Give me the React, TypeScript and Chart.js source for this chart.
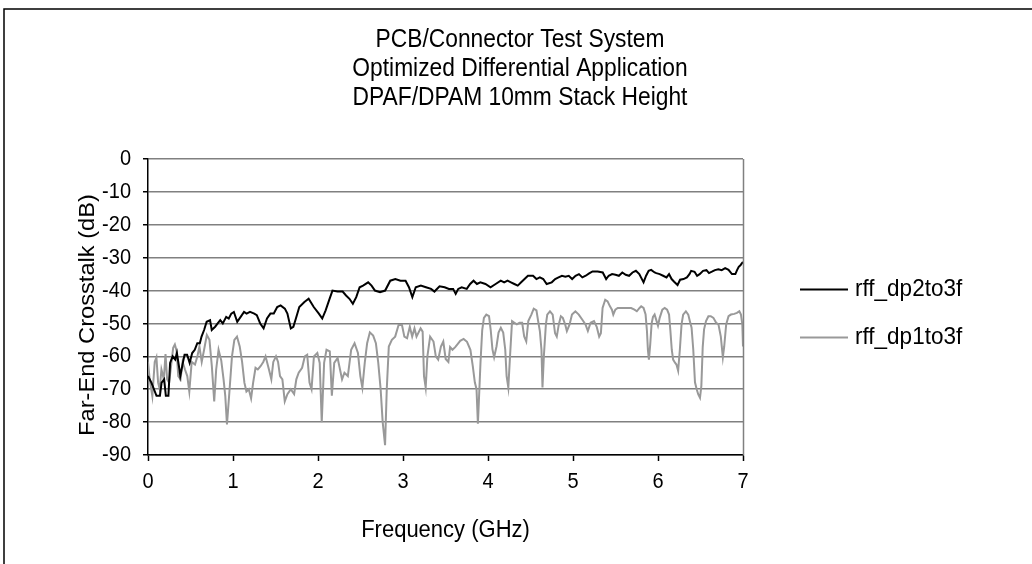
import React, { useEffect, useRef } from "react";
import { Chart, registerables } from "chart.js";

Chart.register(...registerables);

const TITLE_LINES = [
  "PCB/Connector Test System",
  "Optimized Differential Application",
  "DPAF/DPAM 10mm Stack Height",
];
const X_TITLE = "Frequency (GHz)";
const Y_TITLE = "Far-End Crosstalk (dB)";
const SERIES_NAMES = ["rff_dp2to3f", "rff_dp1to3f"];
const SERIES_COLORS = ["#000000", "#999999"];
const X_MIN = 0;
const X_MAX = 7;
const X_STEP = 1;
const Y_MIN = -90;
const Y_MAX = 0;
const Y_STEP = 10;

// rff_dp2to3f (black)
const dp2Freq = [
  0.0, 0.04, 0.1, 0.14, 0.16, 0.19, 0.21, 0.24, 0.26, 0.29,
  0.32, 0.34, 0.37, 0.38, 0.41, 0.43, 0.46, 0.49, 0.52, 0.55,
  0.58, 0.61, 0.63, 0.66, 0.69, 0.73, 0.75, 0.79, 0.82, 0.85,
  0.88, 0.92, 0.95, 0.98, 1.01, 1.05, 1.09, 1.13, 1.16, 1.2,
  1.25, 1.28, 1.32, 1.36, 1.4, 1.44, 1.48, 1.52, 1.56, 1.61,
  1.64, 1.68, 1.71, 1.74, 1.78, 1.84, 1.89, 1.95, 2.01, 2.05,
  2.09, 2.13, 2.17, 2.23, 2.29, 2.33, 2.37, 2.41, 2.45, 2.49,
  2.53, 2.59, 2.63, 2.67, 2.73, 2.79, 2.85, 2.91, 2.97, 3.03,
  3.07, 3.11, 3.15, 3.21, 3.27, 3.33, 3.37, 3.43, 3.49, 3.54,
  3.59, 3.62, 3.65, 3.69, 3.75, 3.79, 3.83, 3.87, 3.91, 3.97,
  4.03, 4.09, 4.15, 4.19, 4.23, 4.27, 4.31, 4.35, 4.39, 4.43,
  4.47, 4.53, 4.57, 4.61, 4.65, 4.69, 4.75, 4.79, 4.83, 4.87,
  4.91, 4.95, 4.99, 5.03, 5.07, 5.11, 5.15, 5.19, 5.23, 5.29,
  5.35, 5.37, 5.39, 5.42, 5.46, 5.5, 5.54, 5.58, 5.62, 5.66,
  5.7, 5.74, 5.78, 5.8, 5.83, 5.86, 5.89, 5.92, 5.96, 5.98,
  6.02, 6.06, 6.1, 6.13, 6.16, 6.19, 6.23, 6.26, 6.3, 6.34,
  6.37, 6.39, 6.43, 6.46, 6.49, 6.53, 6.57, 6.6, 6.64, 6.67,
  6.71, 6.75, 6.79, 6.83, 6.87, 6.91, 6.93, 6.95, 6.97, 7.0,
];
const dp2Values = [
  -66, -68, -72, -72, -68, -67, -72, -72, -62, -60,
  -61, -59, -64, -66, -62, -59.5, -59.5, -62, -59, -58,
  -56, -56, -54, -52, -49.5, -49, -52, -51, -50, -49,
  -50, -48, -48.5, -47, -46.5, -49.5, -48, -46.5, -47, -46.5,
  -47, -47.5, -50, -51.5, -48.5, -47, -47, -45, -44.5, -45.5,
  -47, -51.5, -51, -48.5, -45, -43.5, -42.5, -45, -47, -48.5,
  -46, -43, -40, -40.3, -40.3, -41.5, -42.5, -44, -42, -39,
  -38.5, -37.5, -38.5, -40, -40.5, -40, -37, -36.5, -37, -37,
  -39, -42, -39, -38.5, -39, -39.5, -40.3, -38.7, -39, -39.5,
  -39.5, -41, -39.5, -39, -39.5, -38, -37, -38, -37.5, -38,
  -39, -38, -37, -37.5, -37, -37.5, -38, -38.5, -37.5, -36.5,
  -35.5, -35.5, -36.5, -36, -36.5, -38, -37.5, -36.5, -36, -35.5,
  -35.8, -35.5, -36.5, -35.5, -35, -36, -35.5, -34.8, -34.2, -34.2,
  -34.5, -35.5, -36.5, -35.5, -35, -35.2, -35.5, -34.5, -35.2, -35.5,
  -34.5, -34, -35, -36, -37.5, -35.5, -34, -33.7, -34.5, -34.7,
  -35, -35.5, -36, -35, -36.5, -37.3, -38.3, -36.7, -36.5, -36,
  -35, -34, -34.3, -35.5, -35, -34, -33.8, -34.7, -34.2, -33.8,
  -33.5, -33.8, -33.2, -33.7, -35, -35, -33.8, -32.8, -32.3, -31.3,
];

// rff_dp1to3f (gray)
const dp1Freq = [
  0.0, 0.02, 0.051, 0.079, 0.099, 0.119, 0.138, 0.158, 0.186, 0.206,
  0.225, 0.249, 0.277, 0.296, 0.316, 0.336, 0.356, 0.383, 0.407, 0.435,
  0.462, 0.486, 0.514, 0.553, 0.581, 0.605, 0.632, 0.66, 0.692, 0.723,
  0.751, 0.779, 0.802, 0.83, 0.862, 0.889, 0.909, 0.929, 0.96, 0.988,
  1.016, 1.047, 1.079, 1.107, 1.134, 1.158, 1.186, 1.213, 1.237, 1.265,
  1.292, 1.324, 1.356, 1.383, 1.423, 1.451, 1.474, 1.506, 1.53, 1.553,
  1.581, 1.609, 1.64, 1.68, 1.719, 1.745, 1.773, 1.813, 1.845, 1.873,
  1.9, 1.924, 1.952, 1.992, 2.02, 2.044, 2.072, 2.1, 2.139, 2.163,
  2.191, 2.231, 2.259, 2.283, 2.311, 2.351, 2.39, 2.43, 2.47, 2.498,
  2.522, 2.55, 2.578, 2.61, 2.649, 2.681, 2.709, 2.737, 2.761, 2.789,
  2.809, 2.833, 2.869, 2.908, 2.948, 2.988, 3.016, 3.048, 3.08, 3.108,
  3.135, 3.159, 3.207, 3.231, 3.247, 3.267, 3.287, 3.319, 3.359, 3.386,
  3.414, 3.446, 3.474, 3.502, 3.534, 3.554, 3.582, 3.614, 3.645, 3.673,
  3.713, 3.753, 3.793, 3.821, 3.845, 3.865, 3.881, 3.892, 3.912, 3.932,
  3.952, 3.98, 4.012, 4.032, 4.052, 4.072, 4.1, 4.124, 4.151, 4.179,
  4.203, 4.219, 4.239, 4.259, 4.283, 4.311, 4.339, 4.371, 4.402, 4.426,
  4.45, 4.474, 4.51, 4.538, 4.57, 4.59, 4.61, 4.629, 4.641, 4.657,
  4.681, 4.697, 4.729, 4.761, 4.789, 4.809, 4.833, 4.857, 4.88, 4.908,
  4.928, 4.96, 4.988, 5.028, 5.068, 5.108, 5.147, 5.175, 5.207, 5.247,
  5.279, 5.308, 5.328, 5.348, 5.379, 5.407, 5.435, 5.458, 5.474, 5.498,
  5.526, 5.565, 5.605, 5.644, 5.684, 5.723, 5.751, 5.783, 5.802, 5.83,
  5.854, 5.87, 5.881, 5.893, 5.909, 5.925, 5.941, 5.96, 5.98, 6.0,
  6.02, 6.051, 6.079, 6.107, 6.13, 6.146, 6.162, 6.178, 6.202, 6.217,
  6.237, 6.257, 6.277, 6.296, 6.328, 6.356, 6.375, 6.395, 6.415, 6.435,
  6.455, 6.474, 6.494, 6.51, 6.526, 6.542, 6.565, 6.593, 6.621, 6.652,
  6.684, 6.711, 6.739, 6.763, 6.779, 6.802, 6.83, 6.858, 6.897, 6.929,
  6.957, 6.976, 6.992, 7.0,
];
const dp1Values = [
  -61.7, -67, -72.1, -61.7, -60.3, -68, -70, -64, -67, -59.3,
  -67, -68, -61.7, -57.4, -56.4, -58.3, -66, -67, -61.7, -64,
  -66, -70.7, -61.7, -62.5, -60, -57, -61.7, -58, -53.5, -55,
  -63, -73.7, -64, -58, -61.3, -67, -72, -80.7, -70, -60,
  -55, -54, -57, -61.7, -68, -70.7, -70, -72.8, -68, -63.5,
  -64, -63, -61.7, -60, -64, -67, -61.7, -60, -61.7, -66,
  -67, -73.7, -71.5, -70, -71.5, -67, -65, -63.5, -60, -59.5,
  -68, -70, -60, -59, -62, -80, -62, -58, -58.5, -72,
  -62, -60.5, -64, -67, -65, -66, -58, -56, -59, -66,
  -69.5, -62, -56, -52.7, -53.7, -56, -62, -70, -80, -87,
  -70, -57, -55, -54, -50.5, -50.5, -54, -54.5, -51, -54,
  -51.5, -54, -51.5, -52.5, -66, -69.5, -60, -54, -55.5, -60,
  -61, -57, -55.5, -60.8, -61.7, -57.2, -58, -57.2, -56.2, -55.3,
  -54.7, -55.6, -58, -63, -67.9, -70, -80.5, -74, -61.7, -52,
  -48.3, -47.3, -47.8, -52, -57.8, -60.3, -57, -52.8, -51.3, -52.8,
  -58, -66, -69.5, -60, -49.3, -49.8, -50.3, -49.8, -49.8, -54,
  -55.5, -49.3, -47.3, -45.5, -46, -49.3, -52.3, -58, -69.5, -60,
  -50.3, -47.3, -46.3, -47.3, -53, -54, -50.3, -47.8, -48.3, -50.3,
  -52.3, -50.3, -47.3, -46.3, -47.3, -48.8, -50.3, -52.3, -49.8, -49.3,
  -51, -54, -53, -45.3, -42.8, -43.3, -44.8, -45.8, -47.3, -45.8,
  -45.3, -45.3, -45.3, -45.3, -45.3, -45.8, -46.3, -45.3, -44.8, -45.3,
  -47.3, -52.3, -58, -61, -56.2, -50, -48, -47.3, -49, -50.7,
  -48.3, -45.8, -45.3, -45.8, -47.3, -52.3, -58, -61, -62, -62.5,
  -64.4, -58, -50.3, -47.3, -46.3, -47.3, -49.3, -51.3, -58, -67.9,
  -70, -71.6, -72.6, -69, -57.2, -51.8, -49.3, -47.8, -47.8, -48.3,
  -49.8, -50.3, -54, -60.3, -57, -50.3, -47.8, -47.3, -47.1, -46.8,
  -46.3, -47.3, -50.3, -57,
];

const FONT = '"Liberation Sans", Arial, sans-serif';
const W = 1032;
const H = 564;
const SY = 1.1; // vertical stretch of the reference's lettering

const toPoints = (fs: number[], vs: number[]) =>
  fs.map((f, i) => ({ x: f, y: vs[i] }));

function text(ctx: any, s: string, x: number, y: number, size: number, align: string, rot = 0) {
  ctx.save();
  ctx.translate(x, y);
  ctx.scale(1, SY);
  if (rot) ctx.rotate(rot);
  ctx.font = `${size}px ${FONT}`;
  ctx.textAlign = align;
  ctx.textBaseline = "middle";
  ctx.fillStyle = "#000";
  ctx.fillText(s, 0, 0);
  ctx.restore();
}

const decorPlugin = {
  id: "decor",
  afterDraw(chart: any) {
    const { ctx, chartArea: a } = chart;
    const xs = chart.scales.x;
    const ys = chart.scales.y;
    ctx.save();
    // outer frame
    ctx.strokeStyle = "#000";
    ctx.lineWidth = 1.5;
    ctx.strokeRect(4, 9, 2000, 2000);
    // plot right border
    ctx.strokeStyle = "#808080";
    ctx.lineWidth = 1.5;
    ctx.beginPath();
    ctx.moveTo(Math.round(a.right) + 0.5, a.top);
    ctx.lineTo(Math.round(a.right) + 0.5, a.bottom);
    ctx.stroke();
    ctx.restore();
    // tick labels from the library's scales
    ys.ticks.forEach((t: any) => text(ctx, String(t.value), 131, ys.getPixelForValue(t.value), 20, "right"));
    xs.ticks.forEach((t: any) => text(ctx, String(t.value), xs.getPixelForValue(t.value), 482, 20, "center"));
    // title
    TITLE_LINES.forEach((t, i) => text(ctx, t, 520, 40 + i * 29, 22.8, "center"));
    // axis titles
    text(ctx, X_TITLE, (a.left + a.right) / 2, 530, 22, "center");
    text(ctx, Y_TITLE, 88, (a.top + a.bottom) / 2 + 8, 21.5, "center", -Math.PI / 2);
    // legend
    chart.data.datasets.forEach((ds: any, i: number) => {
      const y = 289 + i * 48;
      ctx.save();
      ctx.strokeStyle = ds.borderColor;
      ctx.lineWidth = 2;
      ctx.beginPath();
      ctx.moveTo(800, y + 0.5);
      ctx.lineTo(848, y + 0.5);
      ctx.stroke();
      ctx.restore();
      text(ctx, ds.label, 855, y, 22.5, "left");
    });
  },
};

export default function App() {
  const ref = useRef<HTMLCanvasElement | null>(null);
  useEffect(() => {
    if (!ref.current) return;
    const chart = new Chart(ref.current, {
      type: "line",
      data: {
        datasets: [
          {
            label: SERIES_NAMES[0],
            data: toPoints(dp2Freq, dp2Values),
            borderColor: SERIES_COLORS[0],
            borderWidth: 2,
            pointRadius: 0,
            tension: 0,
            fill: false,
          },
          {
            label: SERIES_NAMES[1],
            data: toPoints(dp1Freq, dp1Values),
            borderColor: SERIES_COLORS[1],
            borderWidth: 2,
            pointRadius: 0,
            tension: 0,
            fill: false,
          },
        ],
      },
      options: {
        responsive: false,
        animation: false,
        devicePixelRatio: 1,
        layout: { padding: { top: 159, left: 0, right: W - 743, bottom: 0 } },
        plugins: {
          legend: { display: false },
          title: { display: false },
          tooltip: { enabled: false },
        },
        scales: {
          x: {
            type: "linear",
            min: X_MIN,
            max: X_MAX,
            ticks: { stepSize: X_STEP, display: false },
            grid: { drawOnChartArea: false, drawTicks: true, tickLength: 6, tickColor: "#000", tickWidth: 1.5 },
            border: { display: true, color: "#000", width: 1.5 },
            afterFit: (s: any) => { s.height = H - 455; },
          },
          y: {
            type: "linear",
            min: Y_MIN,
            max: Y_MAX,
            ticks: { stepSize: Y_STEP, display: false },
            grid: { color: "#808080", lineWidth: 1.5, drawTicks: true, tickLength: 5, tickColor: "#000", tickWidth: 1.5 },
            border: { display: true, color: "#000", width: 1.5 },
            afterFit: (s: any) => { s.width = 148; },
          },
        },
      },
      plugins: [decorPlugin],
    } as any);
    return () => chart.destroy();
  }, []);
  return (
    <div style={{ position: "absolute", left: 0, top: 0, width: W, height: H, background: "#fff", overflow: "hidden" }}>
      <canvas ref={ref} width={W} height={H} style={{ width: W, height: H, display: "block" }} />
    </div>
  );
}
